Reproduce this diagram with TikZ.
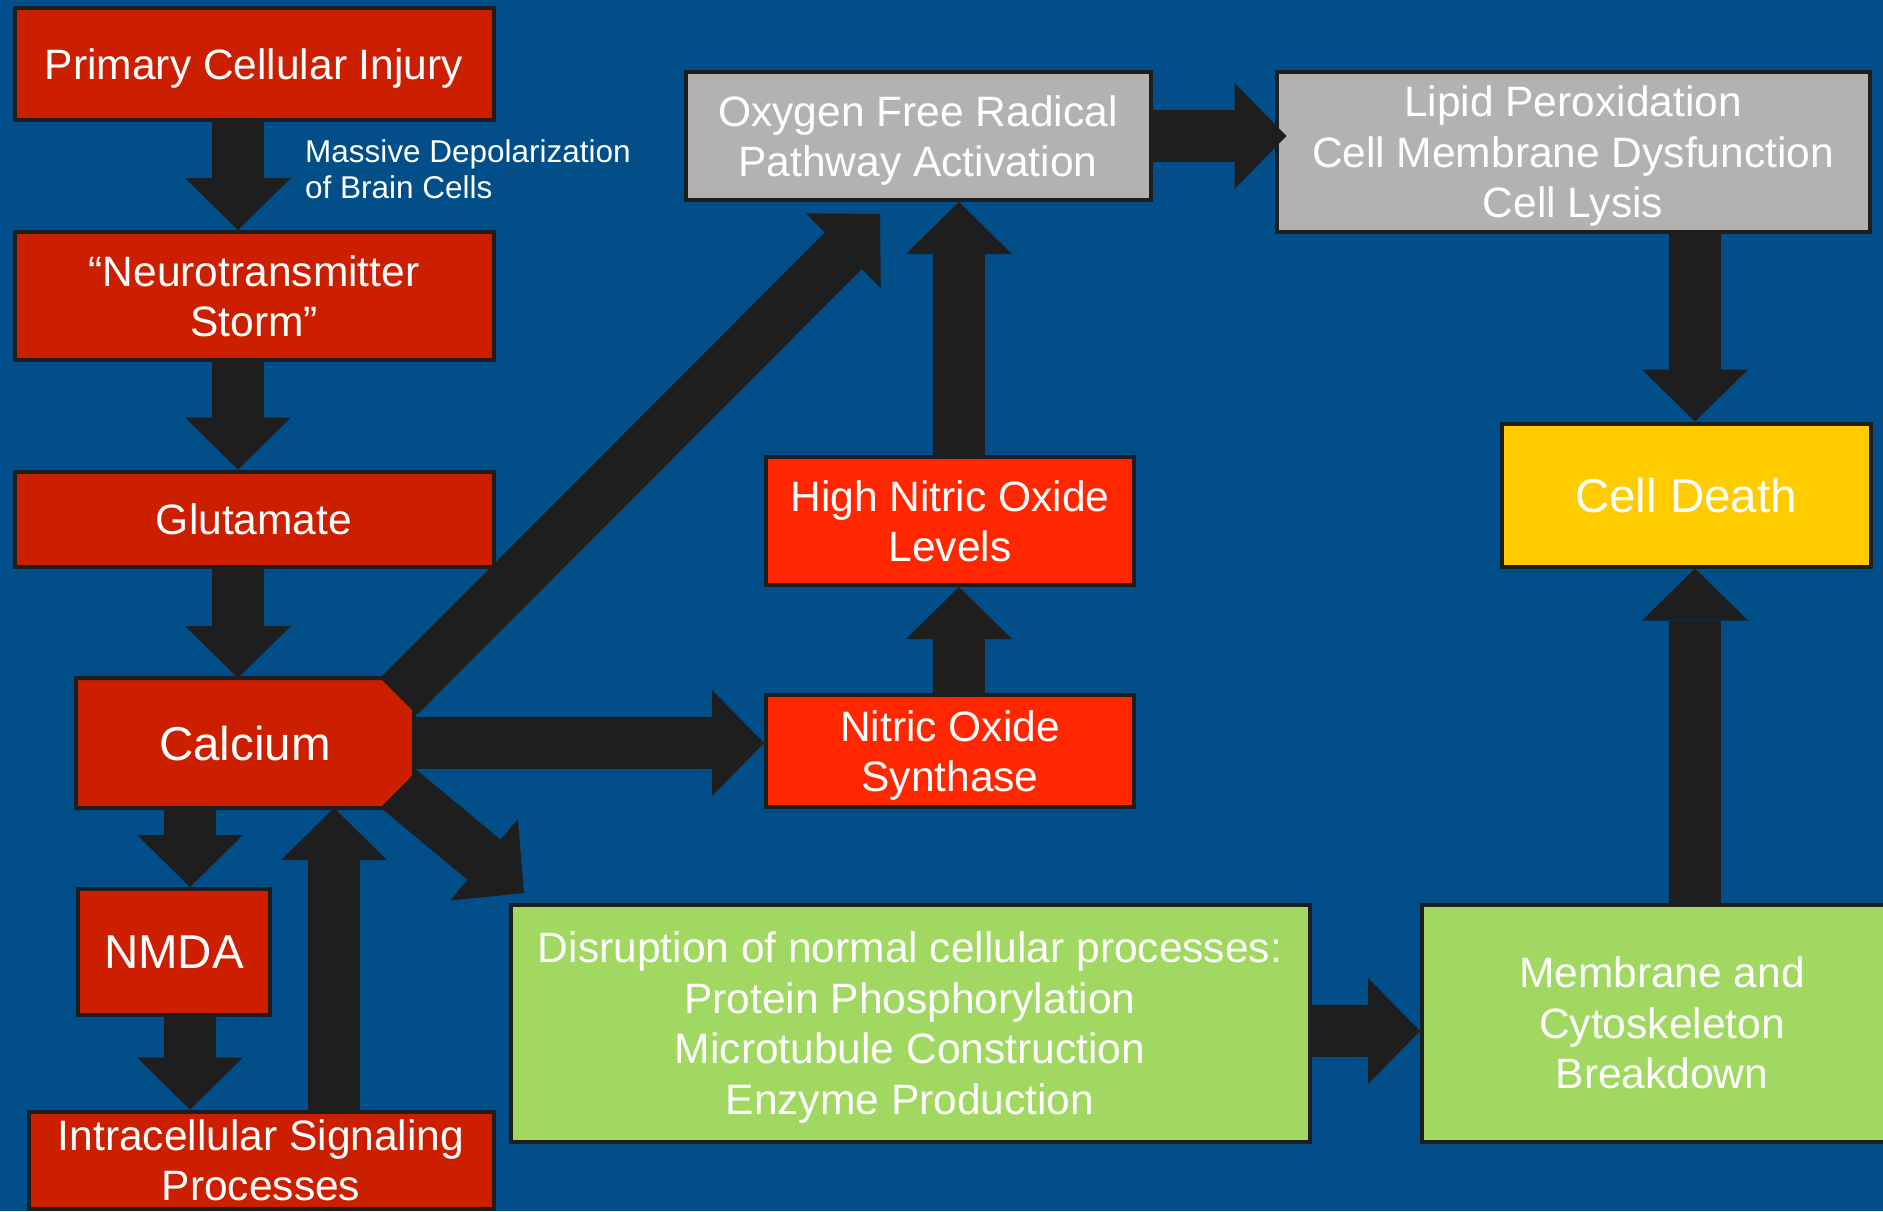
\documentclass[tikz,border=0pt]{standalone}
\usepackage{fontspec}
\setmainfont{Liberation Sans}
\usepackage{tikz}
\usetikzlibrary{arrows.meta,calc,backgrounds}

\definecolor{bgblue}{RGB}{1,78,137}
\definecolor{calred}{RGB}{204,31,0}
\definecolor{noxred}{RGB}{255,38,0}
\definecolor{radgray}{RGB}{178,178,178}
\definecolor{deathyellow}{RGB}{255,204,0}
\definecolor{cellgreen}{RGB}{160,216,98}
\definecolor{ink}{RGB}{30,30,30}

\newcommand{\boxfont}{\fontsize{42.5}{50.5}\selectfont}
\newcommand{\bigfont}{\fontsize{47.5}{56}\selectfont}
\newcommand{\notefont}{\fontsize{31.5}{36}\selectfont}

\tikzset{
  outline/.style={draw=ink, line width=4pt},
  dims/.style 2 args={minimum width=#1pt, minimum height=#2pt},
  stage/.style={outline, text=white, align=center, inner sep=0pt, text depth=-6pt, font=\boxfont},
  injury/.style={stage, fill=calred},
  nitric/.style={stage, fill=noxred},
  radical/.style={stage, fill=radgray},
  process/.style={stage, fill=cellgreen},
  blk/.style={draw=ink, line width=52pt, -{Triangle[length=52pt, width=106pt, line width=0pt]}}
}

\begin{document}
\begin{tikzpicture}[x=1pt, y=-1pt]
    % Frame and slide background
    \useasboundingbox (0,0) rectangle (1883,1211);
    \clip (0,0) rectangle (1883,1211);
    \begin{scope}[on background layer]
      \fill[bgblue] (0,0) rectangle (1883,1211);
    \end{scope}

    % Left column: the injury cascade
    \node[injury, dims={479}{112}] (inj) at (254,64) {Primary Cellular Injury};
    \node[text=white, font=\notefont, align=left, anchor=west, inner sep=0pt] (depol) at (305,169)
      {Massive Depolarization\\of Brain Cells};
    \node[injury, dims={479}{128}] (storm) at (254,296) {“Neurotransmitter\\Storm”};
    \node[injury, dims={479}{95}] (glu) at (254,519) {Glutamate};
    \node[stage, draw=none, dims={334}{126}, font=\bigfont] (cal) at (245,743) {Calcium};
    \node[injury, dims={192}{126}, font=\bigfont] (nmda) at (174,952) {NMDA};
    \node[injury, dims={465}{97}] (signal) at (261,1160) {Intracellular Signaling\\Processes};

    % Calcium box with its cut corners
    \begin{scope}[on background layer]
      \draw[outline, fill=calred] (cal.south west) -- (cal.north west)
        -- ([xshift=-31]cal.north east) -- ([yshift=-31]cal.north east)
        -- ([yshift=31]cal.south east) -- ([xshift=-31]cal.south east) -- cycle;
    \end{scope}

    % Middle: nitric oxide and free radicals
    \node[radical, dims={465}{128}] (oxy) at (918,136) {Oxygen Free Radical\\Pathway Activation};
    \node[nitric, dims={368}{128}] (hino) at (950,521) {High Nitric Oxide\\Levels};
    \node[nitric, dims={368}{112}] (nos) at (950,751) {Nitric Oxide\\Synthase};
    \node[process, dims={799}{237}] (disr) at (910,1023)
      {Disruption of normal cellular processes:\\Protein Phosphorylation\\Microtubule Construction\\Enzyme Production};

    % Right: towards cell death
    \node[radical, dims={593}{160}] (lipid) at (1573,152)
      {Lipid Peroxidation\\Cell Membrane Dysfunction\\Cell Lysis};
    \node[stage, fill=deathyellow, dims={369}{143}, font=\bigfont] (death) at (1686,495) {Cell Death};
    \node[process, dims={480}{237}] (memb) at (1662,1023) {Membrane and\\Cytoskeleton\\Breakdown};

    % Free ends of the diagonal arrows
    \coordinate (oxytip) at (880,214);
    \coordinate (disrtip) at (524,893);

    % Arrows, left column
    \draw[blk] ([xshift=-16]inj.south) -- ([xshift=-16]storm.north);
    \draw[blk] ([xshift=-16]storm.south) -- ([xshift=-16]glu.north);
    \draw[blk] ([xshift=-16]glu.south) -- ([xshift=-7]cal.north);
    \draw[blk] ([xshift=-55]cal.south) -- ([xshift=16]nmda.north);
    \draw[blk] ([xshift=16]nmda.south) -- ([xshift=-71]signal.north);
    \draw[blk] ([xshift=73]signal.north) -- ([xshift=89]cal.south);

    % Arrows, middle
    \draw[blk] (cal.east) -- (cal.east -| nos.west);
    \draw[blk] ([xshift=9]nos.north) -- ([xshift=9]hino.south);
    \draw[blk] ([xshift=9]hino.north) -- ([xshift=41]oxy.south);
    \draw[blk] ($(cal.east)+(-15,-47)$) -- (oxytip);
    \draw[blk] ($(cal.east)+(-14,47)$) -- (disrtip);

    % Arrows, right
    \draw[blk] (oxy.east) -- ($(oxy.east -| lipid.west)+(12,0)$);
    \draw[blk] ([xshift=122]lipid.south) -- ([xshift=9]death.north);
    \draw[blk] ([xshift=33]memb.north) -- ([xshift=9]death.south);
    \draw[blk] ([yshift=-8]disr.east) -- ([yshift=-8]memb.west);
\end{tikzpicture}
\end{document}
